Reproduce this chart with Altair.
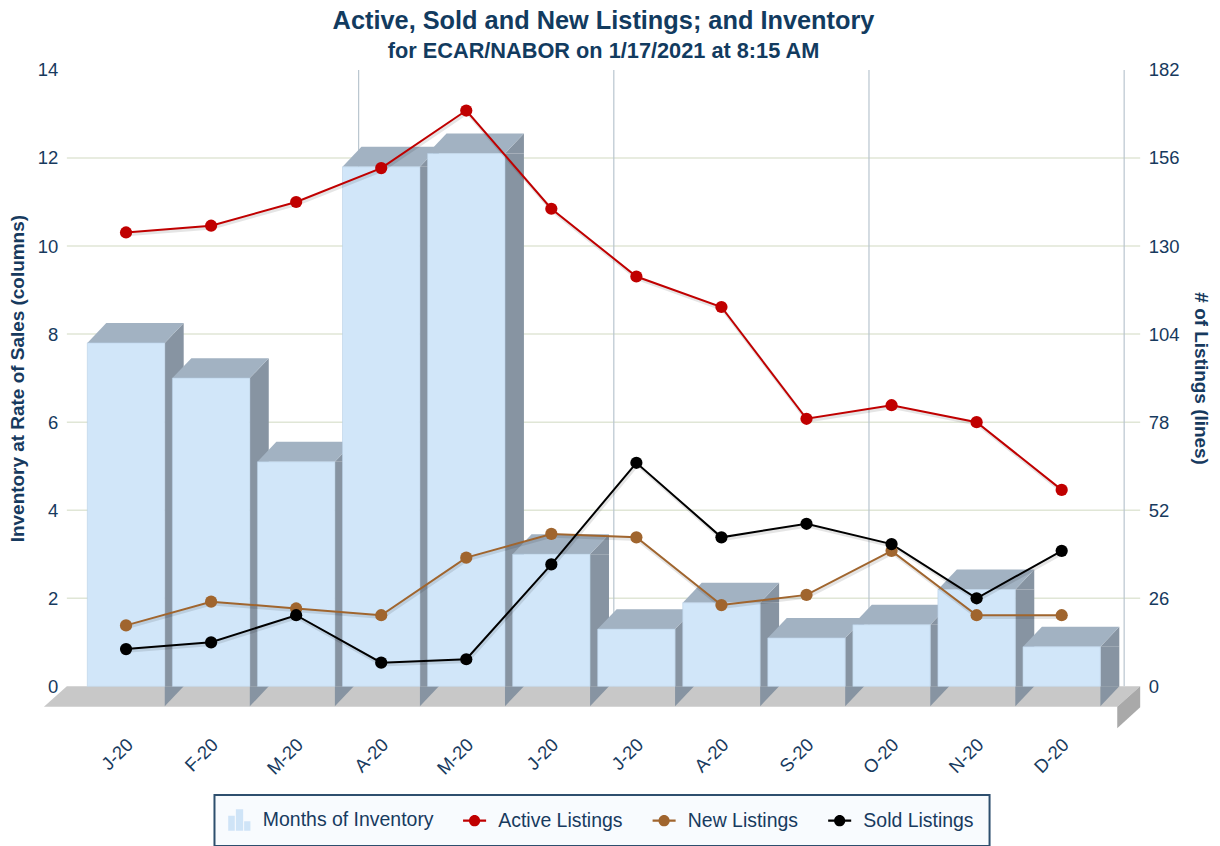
import json
import altair as alt
import pandas as pd

# ---------------- data ----------------
labels = ["J-20", "F-20", "M-20", "A-20", "M-20", "J-20",
          "J-20", "A-20", "S-20", "O-20", "N-20", "D-20"]
inventory = [7.8, 7.0, 5.1, 11.8, 12.1, 3.0, 1.3, 1.9, 1.1, 1.4, 2.2, 0.9]
active = [134, 136, 143, 153, 170, 141, 121, 112, 79, 83, 78, 58]
new_listings = [18, 25, 23, 21, 38, 45, 44, 24, 27, 40, 21, 21]
sold = [11, 13, 21, 7, 8, 36, 66, 44, 48, 42, 26, 40]
series_names = ["Months of Inventory", "Active Listings", "New Listings", "Sold Listings"]
series_colors = ["#cfe4f7", "#c00000", "#a0652e", "#000000"]
left_ticks = [0, 2, 4, 6, 8, 10, 12, 14]
grid_ticks = [2, 4, 6, 8, 10, 12]
right_ticks = [0, 26, 52, 78, 104, 130, 156, 182]
quarter_starts = [3, 6, 9]
last_month = [11]

FONT = "Liberation Sans"
TXT = "#173a5e"
FRONT = "#d1e6f9"
TOP = "#a2b2c2"
SIDE = "#8794a2"

idx = list(range(len(labels)))
bars = pd.DataFrame({"idx": idx, "inv": inventory})
lines = pd.DataFrame({
    "idx": idx * 3,
    "series": ["Active Listings"] * 12 + ["New Listings"] * 12 + ["Sold Listings"] * 12,
    "val": active + new_listings + sold,
})
legend_df = pd.DataFrame({"series": series_names})
grid_df = pd.DataFrame({"g": grid_ticks})
q_df = pd.DataFrame({"idx": quarter_starts})
end_df = pd.DataFrame({"idx": last_month})
floor_df = pd.DataFrame({"z": [0]})

W, H = 1076, 618

xscale = alt.Scale(paddingInner=0, paddingOuter=0.3094, align=0.3165, round=False)
xaxis = alt.Axis(
    labelExpr=f"{json.dumps(labels)}[datum.value]",
    labelAngle=315, labelAlign="right", labelBaseline="middle",
    labelPadding=55, labelOffset=4, labelFontSize=18.5, labelFont=FONT, labelColor=TXT,
    ticks=False, domain=False, grid=False, title=None,
)
yscaleL = alt.Scale(domain=[0, 14], nice=False, zero=True)
yaxisL = alt.Axis(
    values=left_ticks, grid=False, ticks=False, domain=False,
    labelFontSize=18.5, labelFont=FONT, labelColor=TXT, labelPadding=9,
    title="Inventory at Rate of Sales (columns)", titleFont=FONT, titleFontSize=19,
    titleFontWeight="bold", titleColor=TXT, titlePadding=10,
)
yscaleR = alt.Scale(domain=[0, 182], nice=False, zero=True)
yaxisR = alt.Axis(
    orient="right", values=right_ticks, grid=False, ticks=False, domain=False,
    labelFontSize=18.5, labelFont=FONT, labelColor=TXT, labelPadding=8,
    title="# of Listings (lines)", titleFont=FONT, titleFontSize=19,
    titleFontWeight="bold", titleColor=TXT, titlePadding=12,
)


def X(**kw):
    return alt.X("idx:O", scale=xscale, axis=xaxis, **kw)


def YL(field):
    return alt.Y(field, scale=yscaleL, axis=yaxisL)


# shapes in pixel units (size=4 -> 1 path unit = 1px)
HW = 38.8   # half width of bar front
DX = 19     # depth shift right
DY = 20     # depth shift up
top_face = f"M {-HW} 0 L {HW} 0 L {HW+DX} {-DY} L {-HW+DX} {-DY} Z"
side_top = f"M {HW} 0 L {HW+DX} {-DY} L {HW+DX} 0 Z"
side_bot = f"M {HW} 0 L {HW+DX} 0 L {HW} {DY} Z"
floor_top = "M -561 20.5 L 515 20.5 L 538 0 L -538 0 Z"
floor_side = "M 515 20.5 L 538 0 L 538 21 L 515 42 Z"

grid = alt.Chart(grid_df).mark_rule(color="#e0e6d6", strokeWidth=1.5).encode(y=YL("g:Q"))
vr1 = alt.Chart(q_df).mark_rule(color="#b9c5cf", strokeWidth=1.2, xOffset=20).encode(
    x=X(bandPosition=0))
vr2 = alt.Chart(end_df).mark_rule(color="#b9c5cf", strokeWidth=1.2, xOffset=20).encode(
    x=X(bandPosition=1))
floor1 = alt.Chart(floor_df).mark_point(shape=floor_top, size=4, filled=True, opacity=1,
                                        color="#c8c8c8", strokeWidth=0).encode(y=YL("z:Q"))
floor2 = alt.Chart(floor_df).mark_point(shape=floor_side, size=4, filled=True, opacity=1,
                                        color="#a9a9a9", strokeWidth=0).encode(y=YL("z:Q"))
side_rect = alt.Chart(bars).mark_bar(width=DX, xOffset=HW + DX / 2, color=SIDE).encode(
    x=X(), y=YL("inv:Q"))
side_t = alt.Chart(bars).mark_point(shape=side_top, size=4, filled=True, opacity=1,
                                    color=SIDE, strokeWidth=0).encode(x=X(), y=YL("inv:Q"))
side_b = alt.Chart(bars.assign(z=0)).mark_point(shape=side_bot, size=4, filled=True, opacity=1,
                                                color=SIDE, strokeWidth=0).encode(x=X(), y=YL("z:Q"))
top = alt.Chart(bars).mark_point(shape=top_face, size=4, filled=True, opacity=1,
                                 color=TOP, strokeWidth=0).encode(x=X(), y=YL("inv:Q"))
front = alt.Chart(bars).mark_bar(width=2 * HW, y2Offset=20, color=FRONT,
                                 stroke="#b9d0e6", strokeWidth=0.6).encode(x=X(), y=YL("inv:Q"))

left = alt.layer(grid, vr1, vr2, floor1, floor2, side_rect, side_t, side_b, top, front)

line_names = series_names[1:]
line_colors = series_colors[1:]
color_scale = alt.Scale(domain=series_names, range=series_colors)
stroke_scale = alt.Scale(domain=line_names, range=line_colors)
fill_scale = alt.Scale(domain=line_names, range=line_colors)
bar_icon = ("M -1.57 1.54 V -0.6 H -0.63 V 1.54 Z M -0.47 1.54 V -1.54 H 0.57 V 1.54 Z "
            "M 0.71 1.54 V 0.17 H 1.61 V 1.54 Z")
dot_icon = ("M -1.65 -0.15 H -0.7 V 0.15 H -1.65 Z M 0.7 -0.15 H 1.65 V 0.15 H 0.7 Z "
            "M -0.8 0 A 0.8 0.8 0 1 1 0.8 0 A 0.8 0.8 0 1 1 -0.8 0 Z")
shape_scale = alt.Scale(domain=series_names, range=[bar_icon, dot_icon, dot_icon, dot_icon])

legend = alt.Legend(
    title=None, orient="none", legendX=148, legendY=727, direction="horizontal", columns=4,
    symbolSize=196, symbolStrokeWidth=0, symbolOpacity=1, labelOffset=14, columnPadding=29,
    padding=15, labelFont=FONT, labelFontSize=19.5, labelColor=TXT, labelLimit=400,
    fillColor="#f8fbfe", strokeColor="#2e4f6e", cornerRadius=0,
)


def YR():
    return alt.Y("val:Q", scale=yscaleR, axis=yaxisR)


line_shadow = alt.Chart(lines).mark_line(strokeWidth=3.5, color="#000000", opacity=0.1,
                                         xOffset=1, yOffset=2).encode(
    x=X(), y=YR(), detail="series:N")
line_l = alt.Chart(lines).mark_line(strokeWidth=2).encode(
    x=X(), y=YR(), stroke=alt.Stroke("series:N", scale=stroke_scale, legend=None),
    detail="series:N")
line_p = alt.Chart(lines).mark_point(filled=True, size=150, opacity=1, strokeWidth=0).encode(
    x=X(), y=YR(), fill=alt.Fill("series:N", scale=fill_scale, legend=None))
dummy = alt.Chart(legend_df).mark_point(filled=True, opacity=0, size=10).encode(
    color=alt.Color("series:N", scale=color_scale, legend=legend),
    shape=alt.Shape("series:N", scale=shape_scale, legend=legend))

right = alt.layer(line_shadow, line_l, line_p, dummy)

chart = alt.layer(left, right).resolve_scale(y="independent").properties(
    width=W, height=H,
    autosize=alt.AutoSizeParams(type="none"),
    padding={"left": 59, "top": 61, "right": 72, "bottom": 159},
    title=alt.TitleParams(
        text="Active, Sold and New Listings; and Inventory",
        subtitle="for ECAR/NABOR on 1/17/2021 at 8:15 AM",
        font=FONT, fontSize=25.4, fontWeight="bold", color="#123b5f",
        subtitleFont=FONT, subtitleFontSize=21.8, subtitleFontWeight="bold",
        subtitleColor="#123b5f", subtitlePadding=7, offset=-2, anchor="middle",
    ),
).configure_view(stroke=None).configure_legend(strokeWidth=2)

chart.save("out.html", embed_options={"renderer": "svg", "actions": False})
